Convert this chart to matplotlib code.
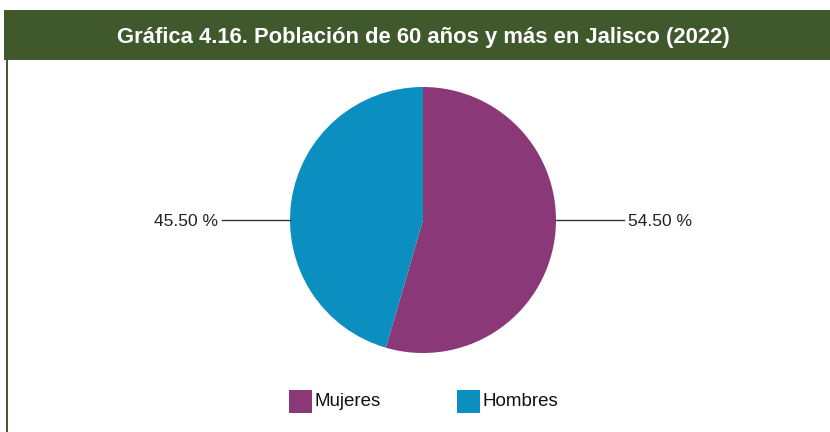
import matplotlib.pyplot as plt
from matplotlib.patches import Rectangle
from matplotlib.lines import Line2D

# Datos de la gráfica
categorias = ['Mujeres', 'Hombres']
porcentajes = [54.50, 45.50]
colores = ['#8A3878', '#0A8FC0']
titulo = 'Gráfica 4.16. Población de 60 años y más en Jalisco (2022)'

fuente = ['Liberation Sans Narrow', 'Liberation Sans', 'DejaVu Sans']
verde = '#40592C'

W, H = 830, 432
fig = plt.figure(figsize=(W / 100, H / 100), dpi=100)

# Barra de título y borde izquierdo
fig.add_artist(Rectangle((4 / W, 1 - 60 / H), 826 / W, 50 / H,
                         transform=fig.transFigure, color=verde, lw=0))
fig.add_artist(Line2D([7 / W, 7 / W], [0, 1 - 60 / H],
                      transform=fig.transFigure, color=verde, lw=1.4))
fig.text(423 / W, 1 - 38 / H, titulo, color='white', fontsize=15.8,
         fontweight='bold', family=fuente, ha='center', va='center')

# Pastel
ax = fig.add_axes([290 / W, 1 - 353 / H, 266 / W, 266 / H])
wedges, _ = ax.pie(porcentajes, colors=colores, startangle=90,
                   counterclock=False, radius=1,
                   wedgeprops=dict(linewidth=0))
ax.set_xlim(-1, 1)
ax.set_ylim(-1, 1)
ax.set_aspect('equal')
ax.axis('off')

# Etiquetas con líneas guía horizontales
for valor, lado in zip(porcentajes, [1, -1]):
    ax.plot([lado * 1.0, lado * 1.51], [0, 0], color='#333333', lw=1,
            clip_on=False)
    ax.text(lado * 1.54, -0.01, f'{valor:.2f} %', fontsize=12.5, family=fuente,
            ha='left' if lado > 0 else 'right', va='center', color='#222222')

# Leyenda
pos_x = [289, 457]
for cat, col, x in zip(categorias, colores, pos_x):
    fig.add_artist(Rectangle((x / W, 1 - 413 / H), 23 / W, 23 / H,
                             transform=fig.transFigure, color=col, lw=0))
    fig.text((x + 25) / W, 1 - 402 / H, cat, fontsize=13.5, family=fuente,
             ha='left', va='center', color='#111111')

fig.savefig('out.png', dpi=100)
